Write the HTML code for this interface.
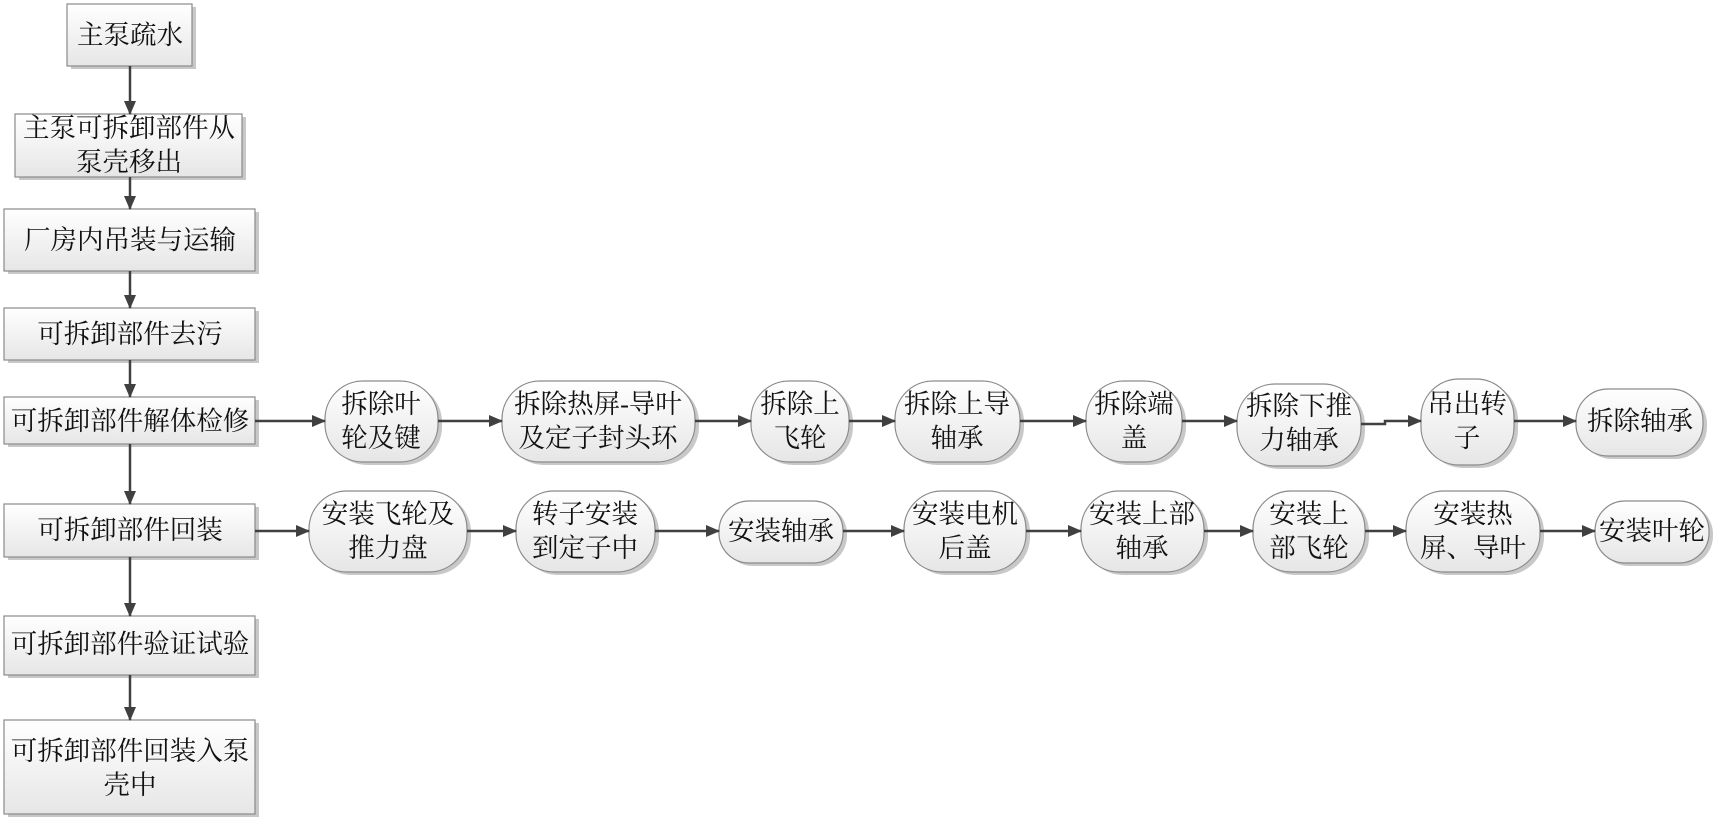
<!DOCTYPE html>
<html><head><meta charset="utf-8"><style>
html,body{margin:0;padding:0;background:#fff;}
svg{display:block;}
text{font-family:"Liberation Serif","Noto Serif CJK SC",serif;font-size:26.5px;fill:#111;text-anchor:middle;dominant-baseline:central;}
.b{fill:url(#g);stroke:#8a8a8a;stroke-width:1.2;}
.s{fill:#c8c8c8;}
.l{stroke:#404040;stroke-width:2.5;fill:none;}
</style></head><body>
<svg width="1724" height="821" viewBox="0 0 1724 821" xmlns="http://www.w3.org/2000/svg">
<defs>
<linearGradient id="g" x1="0" y1="0" x2="0" y2="1"><stop offset="0" stop-color="#ffffff"/><stop offset="1" stop-color="#e6e6e6"/></linearGradient>
<marker id="a" markerWidth="14" markerHeight="12" refX="13" refY="6" orient="auto" markerUnits="userSpaceOnUse"><path d="M0,0 L14,6 L0,12 z" fill="#404040"/></marker>
</defs>
<g>
<rect class="s" x="71" y="7" width="125" height="62"/><rect class="b" x="67" y="4" width="125" height="62"/><text x="130" y="35">主泵疏水</text>
<rect class="s" x="19" y="117" width="227" height="63"/><rect class="b" x="15" y="114" width="227" height="63"/><text x="129" y="128">主泵可拆卸部件从</text><text x="129" y="162">泵壳移出</text>
<rect class="s" x="8" y="212" width="251" height="62"/><rect class="b" x="4" y="209" width="251" height="62"/><text x="130" y="240">厂房内吊装与运输</text>
<rect class="s" x="8" y="311" width="251" height="52"/><rect class="b" x="4" y="308" width="251" height="52"/><text x="130" y="334">可拆卸部件去污</text>
<rect class="s" x="8" y="400" width="251" height="47"/><rect class="b" x="4" y="397" width="251" height="47"/><text x="130" y="421">可拆卸部件解体检修</text>
<rect class="s" x="8" y="507" width="251" height="53"/><rect class="b" x="4" y="504" width="251" height="53"/><text x="130" y="530">可拆卸部件回装</text>
<rect class="s" x="8" y="619" width="251" height="59"/><rect class="b" x="4" y="616" width="251" height="59"/><text x="130" y="644">可拆卸部件验证试验</text>
<rect class="s" x="8" y="723" width="251" height="94"/><rect class="b" x="4" y="720" width="251" height="94"/><text x="130" y="751">可拆卸部件回装入泵</text><text x="130" y="785">壳中</text>
</g>
<g>
<line class="l" x1="130" y1="66" x2="130" y2="114" marker-end="url(#a)"/>
<line class="l" x1="130" y1="177" x2="130" y2="209" marker-end="url(#a)"/>
<line class="l" x1="130" y1="271" x2="130" y2="308" marker-end="url(#a)"/>
<line class="l" x1="130" y1="360" x2="130" y2="397" marker-end="url(#a)"/>
<line class="l" x1="130" y1="444" x2="130" y2="504" marker-end="url(#a)"/>
<line class="l" x1="130" y1="557" x2="130" y2="616" marker-end="url(#a)"/>
<line class="l" x1="130" y1="675" x2="130" y2="720" marker-end="url(#a)"/>
</g>
<g>
<rect class="s" x="329" y="384" width="113" height="81" rx="38"/><rect class="b" x="325" y="381" width="113" height="81" rx="38"/><text x="381" y="404">拆除叶</text><text x="381" y="438">轮及键</text>
<rect class="s" x="506" y="384" width="193" height="81" rx="38"/><rect class="b" x="502" y="381" width="193" height="81" rx="38"/><text x="598" y="404">拆除热屏-导叶</text><text x="598" y="438">及定子封头环</text>
<rect class="s" x="755" y="384" width="98" height="81" rx="38"/><rect class="b" x="751" y="381" width="98" height="81" rx="38"/><text x="800" y="404">拆除上</text><text x="800" y="438">飞轮</text>
<rect class="s" x="899" y="384" width="125" height="81" rx="38"/><rect class="b" x="895" y="381" width="125" height="81" rx="38"/><text x="957" y="404">拆除上导</text><text x="957" y="438">轴承</text>
<rect class="s" x="1090" y="384" width="96" height="81" rx="38"/><rect class="b" x="1086" y="381" width="96" height="81" rx="38"/><text x="1134" y="404">拆除端</text><text x="1134" y="438">盖</text>
<rect class="s" x="1241" y="387" width="124" height="82" rx="38"/><rect class="b" x="1237" y="384" width="124" height="82" rx="38"/><text x="1299" y="406">拆除下推</text><text x="1299" y="440">力轴承</text>
<rect class="s" x="1425" y="382" width="93" height="86" rx="38"/><rect class="b" x="1421" y="379" width="93" height="86" rx="38"/><text x="1467" y="404">吊出转</text><text x="1467" y="438">子</text>
<rect class="s" x="1580" y="392" width="127" height="67" rx="32"/><rect class="b" x="1576" y="389" width="127" height="67" rx="32"/><text x="1640" y="421">拆除轴承</text>
</g>
<g>
<line class="l" x1="255" y1="421" x2="325" y2="421" marker-end="url(#a)"/>
<line class="l" x1="438" y1="421" x2="502" y2="421" marker-end="url(#a)"/>
<line class="l" x1="695" y1="421" x2="751" y2="421" marker-end="url(#a)"/>
<line class="l" x1="849" y1="421" x2="895" y2="421" marker-end="url(#a)"/>
<line class="l" x1="1020" y1="421" x2="1086" y2="421" marker-end="url(#a)"/>
<line class="l" x1="1182" y1="421" x2="1237" y2="421" marker-end="url(#a)"/>
<polyline class="l" points="1361,424 1385,424 1385,421 1421,421" marker-end="url(#a)"/>
<line class="l" x1="1514" y1="421" x2="1576" y2="421" marker-end="url(#a)"/>
</g>
<g>
<rect class="s" x="313" y="494" width="158" height="81" rx="38"/><rect class="b" x="309" y="491" width="158" height="81" rx="38"/><text x="388" y="514">安装飞轮及</text><text x="388" y="548">推力盘</text>
<rect class="s" x="520" y="494" width="139" height="81" rx="38"/><rect class="b" x="516" y="491" width="139" height="81" rx="38"/><text x="585" y="514">转子安装</text><text x="585" y="548">到定子中</text>
<rect class="s" x="723" y="504" width="124" height="62" rx="30"/><rect class="b" x="719" y="501" width="124" height="62" rx="30"/><text x="781" y="531">安装轴承</text>
<rect class="s" x="908" y="494" width="122" height="81" rx="38"/><rect class="b" x="904" y="491" width="122" height="81" rx="38"/><text x="965" y="514">安装电机</text><text x="965" y="548">后盖</text>
<rect class="s" x="1085" y="494" width="123" height="81" rx="38"/><rect class="b" x="1081" y="491" width="123" height="81" rx="38"/><text x="1142" y="514">安装上部</text><text x="1142" y="548">轴承</text>
<rect class="s" x="1257" y="494" width="112" height="81" rx="38"/><rect class="b" x="1253" y="491" width="112" height="81" rx="38"/><text x="1309" y="514">安装上</text><text x="1309" y="548">部飞轮</text>
<rect class="s" x="1410" y="494" width="134" height="81" rx="38"/><rect class="b" x="1406" y="491" width="134" height="81" rx="38"/><text x="1473" y="514">安装热</text><text x="1473" y="548">屏、导叶</text>
<rect class="s" x="1599" y="504" width="114" height="62" rx="30"/><rect class="b" x="1595" y="501" width="114" height="62" rx="30"/><text x="1652" y="531">安装叶轮</text>
</g>
<g>
<line class="l" x1="255" y1="531" x2="309" y2="531" marker-end="url(#a)"/>
<line class="l" x1="467" y1="531" x2="516" y2="531" marker-end="url(#a)"/>
<line class="l" x1="655" y1="531" x2="719" y2="531" marker-end="url(#a)"/>
<line class="l" x1="843" y1="531" x2="904" y2="531" marker-end="url(#a)"/>
<line class="l" x1="1026" y1="531" x2="1081" y2="531" marker-end="url(#a)"/>
<line class="l" x1="1204" y1="531" x2="1253" y2="531" marker-end="url(#a)"/>
<line class="l" x1="1365" y1="531" x2="1406" y2="531" marker-end="url(#a)"/>
<line class="l" x1="1540" y1="531" x2="1595" y2="531" marker-end="url(#a)"/>
</g>
</svg>
</body></html>
